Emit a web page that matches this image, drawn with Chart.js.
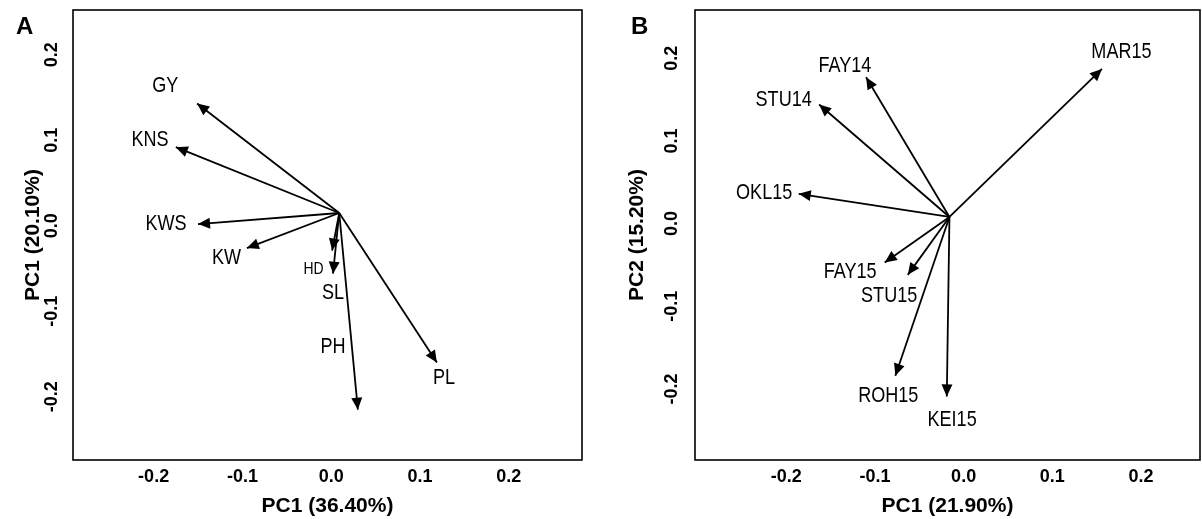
<!DOCTYPE html>
<html><head><meta charset="utf-8">
<script src="https://cdn.jsdelivr.net/npm/chart.js@4/dist/chart.umd.min.js"></script>
<style>
html,body{margin:0;padding:0;background:#fff;width:1202px;height:519px;overflow:hidden;}
.panel{position:absolute;top:0;height:519px;}
#wrapA{left:0;width:600px;}
#wrapB{left:600px;width:602px;}
.tag{position:absolute;font:bold 24px "Liberation Sans",Arial,sans-serif;line-height:24px;color:#000;}
</style></head><body>
<div class="panel" id="wrapA"><canvas id="cA" width="600" height="519"></canvas></div>
<div class="panel" id="wrapB"><canvas id="cB" width="602" height="519"></canvas></div>
<div class="tag" style="left:16px;top:14px">A</div>
<div class="tag" style="left:631px;top:14px">B</div>
<script>
// ---- data ----
const tickValues = [-0.2, -0.1, 0.0, 0.1, 0.2];

// Panel A: trait loadings
const traitsA = ["GY", "KNS", "KWS", "KW", "HD", "SL", "PH", "PL"];
const originA = [0.009, 0.015];
const tipXA = [-0.151, -0.175, -0.150, -0.095, 0.001, 0.002, 0.030, 0.119];
const tipYA = [0.143, 0.092, 0.002, -0.026, -0.029, -0.056, -0.215, -0.160];
const labelXA = [-0.187, -0.204, -0.186, -0.118, -0.020, 0.002, 0.002, 0.127];
const labelYA = [0.164, 0.100, 0.002, -0.037, -0.051, -0.079, -0.142, -0.178];

// Panel B: environment loadings
const envB = ["MAR15", "FAY14", "STU14", "OKL15", "FAY15", "STU15", "ROH15", "KEI15"];
const originB = [-0.016, 0.008];
const tipXB = [0.156, -0.110, -0.163, -0.186, -0.089, -0.063, -0.077, -0.019];
const tipYB = [0.187, 0.177, 0.144, 0.036, -0.047, -0.062, -0.184, -0.209];
const labelXB = [0.178, -0.134, -0.203, -0.225, -0.128, -0.084, -0.085, -0.013];
const labelYB = [0.207, 0.191, 0.150, 0.037, -0.059, -0.088, -0.209, -0.238];

// ---- rendering ----
const FAMILY = '"Liberation Sans", Arial, sans-serif';
Chart.defaults.font.family = FAMILY;
Chart.defaults.color = '#000';

const arrowPlugin = {
  id: 'arrows',
  afterDatasetsDraw(chart, args, opts) {
    const ctx = chart.ctx;
    const xs = chart.scales.x, ys = chart.scales.y;
    ctx.save();
    chart.data.datasets.forEach((ds, i) => {
      const meta = chart.getDatasetMeta(i);
      const p0 = meta.data[0], p1 = meta.data[1];
      const ang = Math.atan2(p1.y - p0.y, p1.x - p0.x);
      const L = 12, W = 5.5;
      const bx = p1.x - L * Math.cos(ang), by = p1.y - L * Math.sin(ang);
      ctx.beginPath();
      ctx.moveTo(p1.x, p1.y);
      ctx.lineTo(bx + W * Math.sin(ang), by - W * Math.cos(ang));
      ctx.lineTo(bx - W * Math.sin(ang), by + W * Math.cos(ang));
      ctx.closePath();
      ctx.fillStyle = '#000';
      ctx.fill();
      // label
      const lx = xs.getPixelForValue(ds.labelPos.x);
      const ly = ys.getPixelForValue(ds.labelPos.y);
      const small = (opts.smallLabels || []).includes(ds.label);
      ctx.save();
      ctx.translate(lx, ly);
      ctx.scale(0.82, 1);
      ctx.font = (small ? 17 : 22) + 'px ' + FAMILY;
      ctx.textAlign = 'center';
      ctx.textBaseline = 'middle';
      ctx.fillStyle = '#000';
      ctx.fillText(ds.label, 0, 0);
      ctx.restore();
    });
    const a = chart.chartArea;
    ctx.lineWidth = 1.6;
    ctx.strokeStyle = '#000';
    ctx.strokeRect(a.left, a.top, a.right - a.left, a.bottom - a.top);
    ctx.restore();
  }
};

function makeChart(id, names, origin, tipX, tipY, labX, labY, cfg) {
  const datasets = names.map((n, i) => ({
    label: n,
    data: [{x: origin[0], y: origin[1]}, {x: tipX[i], y: tipY[i]}],
    showLine: true,
    borderColor: '#000',
    borderWidth: 1.8,
    pointRadius: 0,
    fill: false,
    clip: false,
    labelPos: {x: labX[i], y: labY[i]}
  }));
  const tickFont = {family: FAMILY, size: 18, weight: 'bold'};
  const titleFont = {family: FAMILY, size: 21, weight: 'bold'};
  return new Chart(document.getElementById(id), {
    type: 'scatter',
    data: {datasets},
    options: {
      responsive: false,
      animation: false,
      events: [],
      layout: {padding: {top: 10, right: cfg.rightPad, bottom: 0, left: 0}},
      plugins: {
        legend: {display: false},
        tooltip: {enabled: false},
        arrows: {smallLabels: ['HD']}
      },
      scales: {
        x: {
          type: 'linear',
          min: cfg.xr[0], max: cfg.xr[1],
          grid: {display: false, drawTicks: false, tickLength: 0},
          border: {display: false},
          afterBuildTicks: s => { s.ticks = tickValues.map(v => ({value: v})); },
          afterFit: s => { s.height = 59; s.paddingLeft = 0; s.paddingRight = 0; },
          ticks: {
            callback: v => Number(v).toFixed(1),
            padding: 6.2, font: tickFont, color: '#000',
            maxRotation: 0, minRotation: 0, autoSkip: false
          },
          title: {display: true, text: cfg.xTitle, font: titleFont, color: '#000', padding: {top: 0, bottom: 0}}
        },
        y: {
          type: 'linear',
          min: cfg.yr[0], max: cfg.yr[1],
          grid: {display: false, drawTicks: false, tickLength: 0},
          border: {display: false},
          afterBuildTicks: s => { s.ticks = tickValues.map(v => ({value: v})); },
          afterFit: s => { s.width = cfg.leftW; s.paddingTop = 0; s.paddingBottom = 0; },
          ticks: {
            callback: v => Number(v).toFixed(1),
            padding: cfg.yTickPad, font: tickFont, color: '#000',
            minRotation: 90, maxRotation: 90, crossAlign: 'center', autoSkip: false
          },
          title: {display: true, text: cfg.yTitle, font: titleFont, color: '#000', padding: {top: cfg.yTitlePad, bottom: 0}}
        }
      }
    },
    plugins: [arrowPlugin]
  });
}

makeChart('cA', traitsA, originA, tipXA, tipYA, labelXA, labelYA, {
  xr: [-0.2908, 0.2824], yr: [-0.2739, 0.2524],
  xTitle: 'PC1 (36.40%)', yTitle: 'PC1 (20.10%)',
  leftW: 73, rightPad: 18, yTickPad: 5.5, yTitlePad: 20.4
});
makeChart('cB', envB, originB, tipXB, tipYB, labelXB, labelYB, {
  xr: [-0.3030, 0.2666], yr: [-0.2859, 0.2583],
  xTitle: 'PC1 (21.90%)', yTitle: 'PC2 (15.20%)',
  leftW: 95, rightPad: 2, yTickPad: 7.8, yTitlePad: 24.9
});
</script>
</body></html>
